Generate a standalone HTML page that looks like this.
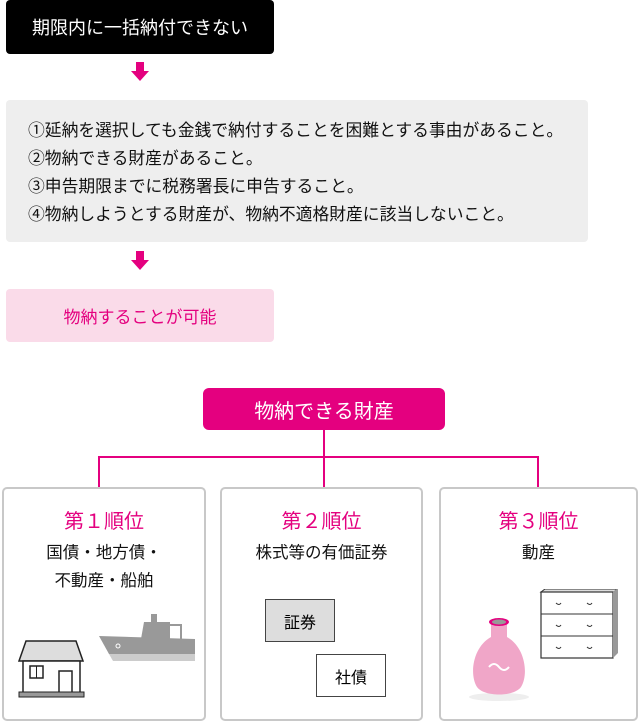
<!DOCTYPE html>
<html><head><meta charset="utf-8"><style>
body{margin:0;width:640px;height:722px;background:#fff;position:relative;overflow:hidden;font-family:"Liberation Sans","Noto Sans CJK JP",sans-serif;}
.a{position:absolute;box-sizing:border-box;}
.c{display:flex;align-items:center;justify-content:center;}
.card{border:2px solid #c8c8c8;border-radius:5px;background:#fff;}
.t{position:absolute;left:0;right:0;text-align:center;}
</style></head><body>
<div class="a c" style="left:6px;top:0;width:268px;height:54px;background:#000;border-radius:4px;color:#fff;font-size:18px;">期限内に一括納付できない</div>
<svg class="a" style="left:131px;top:62px" width="18" height="20"><rect x="5" y="0" width="8" height="10" fill="#e4007f"/><polygon points="0,9 18,9 9,19" fill="#e4007f"/></svg>
<div class="a" style="left:6px;top:100px;width:582px;height:142px;background:#eeeeee;border-radius:4px;padding:17px 0 0 22px;font-size:16.8px;line-height:28px;color:#111;white-space:nowrap;">①延納を選択しても金銭で納付することを困難とする事由があること。<br>②物納できる財産があること。<br>③申告期限までに税務署長に申告すること。<br>④物納しようとする財産が、物納不適格財産に該当しないこと。</div>
<svg class="a" style="left:131px;top:251px" width="18" height="20"><rect x="5" y="0" width="8" height="10" fill="#e4007f"/><polygon points="0,9 18,9 9,19" fill="#e4007f"/></svg>
<div class="a c" style="left:6px;top:289px;width:268px;height:53px;background:#fadbe9;border-radius:4px;color:#e4007f;font-size:17px;">物納することが可能</div>
<div class="a c" style="left:203px;top:388px;width:242px;height:42px;background:#e4007f;border-radius:6px;color:#fff;font-size:20px;">物納できる財産</div>
<svg class="a" style="left:0;top:430px" width="640" height="60"><g stroke="#e4007f" stroke-width="2" fill="none"><line x1="324" y1="0" x2="324" y2="58"/><polyline points="99,58 99,27 538,27 538,58"/></g></svg>
<div class="a card" style="left:2px;top:487px;width:204px;height:234px;">
<div class="t" style="top:16px;color:#e4007f;font-size:20px;">第１順位</div>
<div class="t" style="top:50px;font-size:16.5px;line-height:28px;color:#111;">国債・地方債・<br>不動産・船舶</div>
<svg class="a" style="left:10px;top:115px" width="190" height="100">
<polygon points="12,37 62,37 69,57 5,57" fill="#ddd" stroke="#222" stroke-width="1.5"/>
<rect x="9" y="57" width="57" height="32" fill="#fff" stroke="#222" stroke-width="1.5"/>
<rect x="16" y="62" width="13" height="12" fill="#fff" stroke="#222" stroke-width="1.5"/>
<line x1="22.5" y1="62" x2="22.5" y2="74" stroke="#222"/>
<rect x="45" y="67" width="13" height="22" fill="#fff" stroke="#222" stroke-width="1.5"/>
<rect x="5" y="88" width="65" height="5" fill="#999" stroke="#222"/>
<polygon points="85,32 181,35 181,50 95,50" fill="#999"/>
<polygon points="95,50 181,50 181,57 99,57" fill="#ccc"/>
<polygon points="130,18 156,18 156,35 127,35" fill="#999"/>
<rect x="137" y="10" width="6" height="9" fill="#999"/>
<line x1="156" y1="21" x2="168" y2="21" stroke="#999" stroke-width="2"/><line x1="167" y1="21" x2="167" y2="35" stroke="#999" stroke-width="2"/>
<circle cx="104" cy="42" r="2" fill="none" stroke="#fff"/>
</svg>
</div>
<div class="a card" style="left:220px;top:487px;width:203px;height:234px;">
<div class="t" style="top:16px;color:#e4007f;font-size:20px;">第２順位</div>
<div class="t" style="top:50px;font-size:16.5px;line-height:28px;color:#111;">株式等の有価証券</div>
<div class="a c" style="left:43px;top:110px;width:70px;height:43px;background:#ddd;border:1.5px solid #444;font-size:16px;">証券</div>
<div class="a c" style="left:94px;top:165px;width:70px;height:43px;background:#fff;border:1.5px solid #444;font-size:16px;">社債</div>
</div>
<div class="a card" style="left:439px;top:487px;width:199px;height:234px;">
<div class="t" style="top:16px;color:#e4007f;font-size:20px;">第３順位</div>
<div class="t" style="top:50px;font-size:16.5px;line-height:28px;color:#111;">動産</div>
<svg class="a" style="left:20px;top:100px" width="180" height="130">
<ellipse cx="38" cy="108" rx="30" ry="4" fill="#eee"/>
<path d="M30,33 L46,33 L46,48 C64,58 68,85 60,98 C53,108 23,108 16,98 C8,85 12,58 30,48 Z" fill="#f0a6c8"/>
<ellipse cx="38" cy="33" rx="10" ry="4" fill="#e4007f"/><ellipse cx="38" cy="33" rx="7" ry="2.5" fill="#999"/>
<path d="M28,78 q5,-6 10,0 t10,0" stroke="#fff" stroke-width="2" fill="none"/>
<polygon points="80,3 153,3 156,0 84,0" fill="#ddd" stroke="#333" stroke-width="1"/>
<rect x="80" y="3" width="72" height="66" fill="#fff" stroke="#333" stroke-width="1.2"/>
<polygon points="152,3 157,-1 157,64 152,69" fill="#999"/>
<line x1="80" y1="25" x2="152" y2="25" stroke="#333"/><line x1="80" y1="47" x2="152" y2="47" stroke="#333"/>
<g stroke="#333" fill="none"><path d="M95,14 q3,3 5,0"/><path d="M126,14 q3,3 5,0"/><path d="M95,36 q3,3 5,0"/><path d="M126,36 q3,3 5,0"/><path d="M95,58 q3,3 5,0"/><path d="M126,58 q3,3 5,0"/></g>
</svg>
</div>
</body></html>
